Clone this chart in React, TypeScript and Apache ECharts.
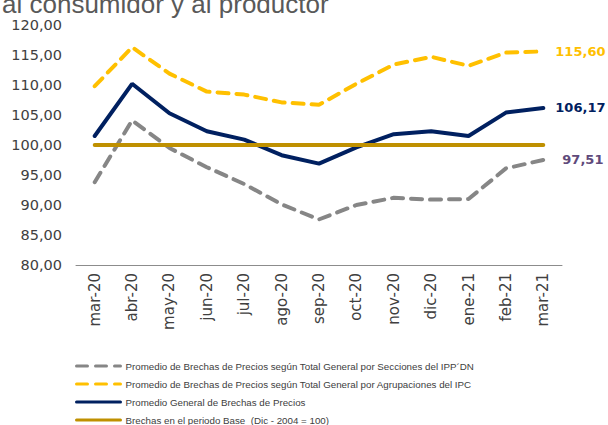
import React, { useEffect, useRef } from "react";
import * as echarts from "echarts";

const categories = ["mar-20","abr-20","may-20","jun-20","jul-20","ago-20","sep-20","oct-20","nov-20","dic-20","ene-21","feb-21","mar-21"];
const ippSeries = [93.8, 104.1, 99.5, 96.3, 93.5, 90.1, 87.6, 90.0, 91.2, 90.9, 91.0, 96.1, 97.51];
const ipcSeries = [109.8, 116.3, 111.9, 108.9, 108.4, 107.1, 106.7, 110.2, 113.4, 114.7, 113.2, 115.4, 115.60];
const generalSeries = [101.5, 110.2, 105.3, 102.3, 100.9, 98.3, 96.9, 99.6, 101.8, 102.3, 101.5, 105.4, 106.17];
const baseSeries = [100, 100, 100, 100, 100, 100, 100, 100, 100, 100, 100, 100, 100];
const seriesNames = [
  "Promedio de Brechas de Precios según Total General por Secciones del IPP´DN",
  "Promedio de Brechas de Precios según Total General por Agrupaciones del IPC",
  "Promedio General de Brechas de Precios",
  "Brechas en el periodo Base  (Dic - 2004 = 100)",
];
const yTicks = { min: 80, max: 120, interval: 5 };

const FONT = "'Liberation Sans', Arial, sans-serif";
const AXFONT = "'DejaVu Sans', sans-serif";
const fmt = (v: number) => v.toFixed(2).replace(".", ",");

export default function App() {
  const ref = useRef<HTMLDivElement>(null);
  useEffect(() => {
    if (!ref.current) return;
    const chart = echarts.init(ref.current, undefined, { renderer: "svg" });
    const endLabel = (color: string, dx: number) => ({
      show: true,
      formatter: (p: any) => fmt(p.value),
      color,
      fontWeight: "bold",
      fontSize: 13,
      fontFamily: AXFONT,
      distance: dx,
    });
    chart.setOption({
      animation: false,
      backgroundColor: "#ffffff",
      title: {
        text: "al consumidor y al productor",
        left: -3,
        top: -14,
        textStyle: { fontSize: 26, color: "#595959", fontWeight: "normal", fontFamily: FONT },
      },
      grid: { left: 76, right: 46, top: 25, bottom: 160 },
      legend: {
        orient: "vertical",
        left: 75,
        top: 361,
        height: 120,
        padding: 0,
        itemWidth: 44,
        itemHeight: 12,
        itemGap: 8,
        data: seriesNames,
        itemStyle: { opacity: 0 },
        lineStyle: { width: 3 },
        textStyle: { fontSize: 9.75, color: "#404040", fontFamily: FONT },
      },
      xAxis: {
        type: "category",
        data: categories,
        boundaryGap: true,
        axisLine: { lineStyle: { color: "#8c8c8c", width: 1 } },
        axisTick: { show: false },
        axisLabel: { rotate: 90, fontSize: 15, color: "#404040", margin: 8, fontFamily: AXFONT, interval: 0 },
      },
      yAxis: {
        type: "value",
        min: yTicks.min,
        max: yTicks.max,
        interval: yTicks.interval,
        axisLine: { show: false },
        axisTick: { show: false },
        splitLine: { show: false },
        axisLabel: { fontSize: 14.5, color: "#404040", margin: 14, fontFamily: AXFONT, formatter: (v: number) => fmt(v) },
      },
      series: [
        {
          name: seriesNames[0],
          type: "line",
          data: ippSeries,
          symbol: "none",
          lineStyle: { color: "#868686", width: 4, type: [11, 8], cap: "round" },
          itemStyle: { color: "#868686" },
          endLabel: endLabel("#604a7b", 19),
          z: 2,
        },
        {
          name: seriesNames[1],
          type: "line",
          data: ipcSeries,
          symbol: "none",
          lineStyle: { color: "#ffc000", width: 4, type: [11, 8], cap: "round" },
          itemStyle: { color: "#ffc000" },
          endLabel: endLabel("#ffc000", 12),
          z: 2,
        },
        {
          name: seriesNames[2],
          type: "line",
          data: generalSeries,
          symbol: "none",
          lineStyle: { color: "#002060", width: 4, cap: "round" },
          itemStyle: { color: "#002060" },
          endLabel: endLabel("#002060", 12),
          z: 3,
        },
        {
          name: seriesNames[3],
          type: "line",
          data: baseSeries,
          symbol: "none",
          lineStyle: { color: "#bf9000", width: 4, cap: "round" },
          itemStyle: { color: "#bf9000" },
          z: 4,
        },
      ],
    });
    return () => chart.dispose();
  }, []);
  return <div ref={ref} style={{ width: 608, height: 425, position: "absolute", left: 0, top: 0 }} />;
}
